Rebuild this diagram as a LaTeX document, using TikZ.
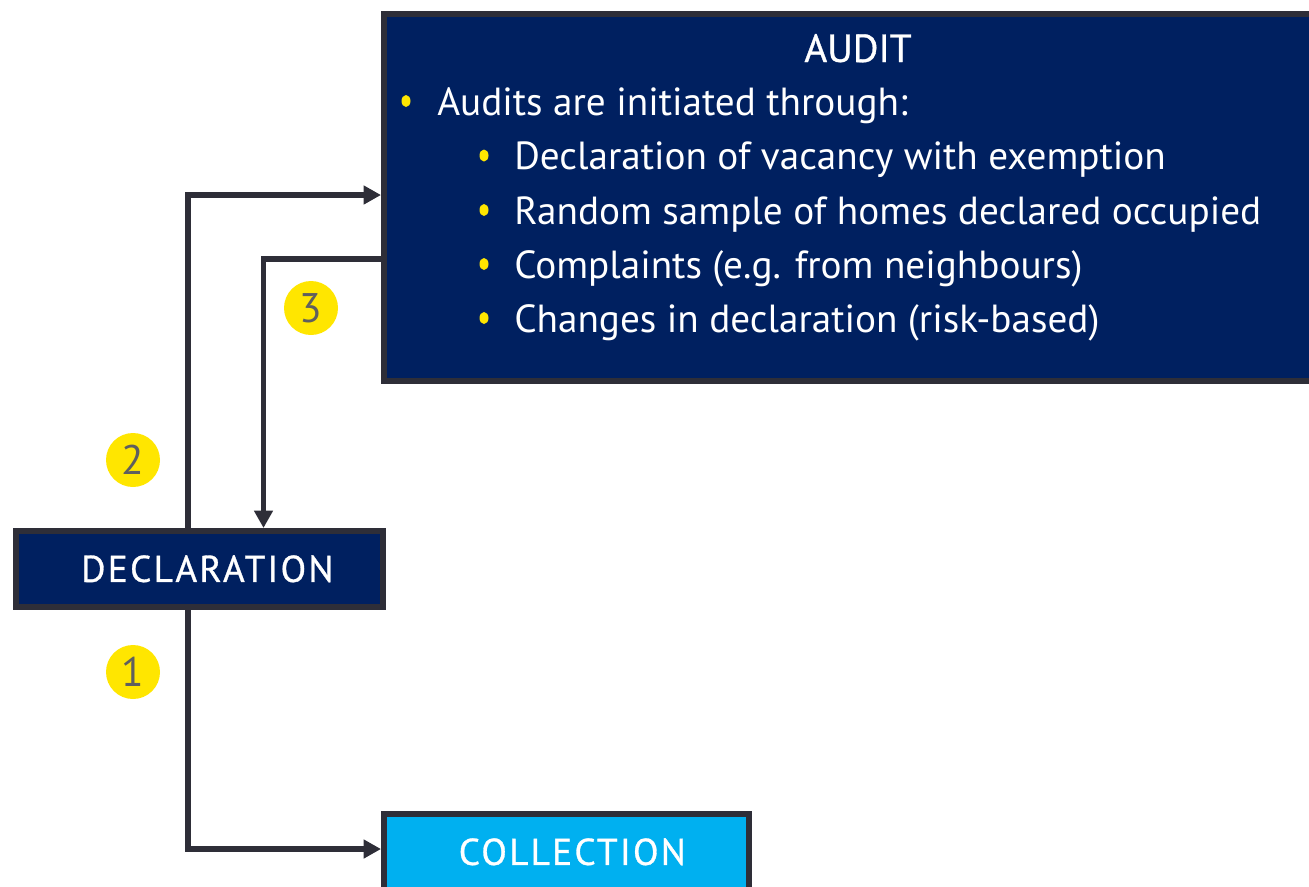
\documentclass[tikz,border=0pt]{standalone}
\usepackage{fontspec}
\setmainfont{PT Sans}
\usepackage{xcolor}
\usepackage{tikz}
\usetikzlibrary{arrows.meta}

\definecolor{navy}{RGB}{0,32,96}
\definecolor{edgegray}{RGB}{46,46,56}
\definecolor{sky}{RGB}{0,176,240}
\definecolor{eyyellow}{RGB}{255,230,0}
\definecolor{numgray}{RGB}{95,95,95}

\begin{document}
\begin{tikzpicture}[x=0.75pt,y=-0.75pt,
    box/.style={draw=edgegray,line width=4.25pt,fill=navy,text=white,inner sep=0pt,anchor=north west,
                font=\fontsize{28}{32}\selectfont\addfontfeatures{LetterSpace=6,FakeBold=0.8}},
    item/.style={text=white,inner sep=0pt,anchor=base west,font=\fontsize{29.4}{34}\selectfont},
    badge/.style={circle,fill=eyyellow,text=numgray,minimum size=40.5pt,inner sep=0pt,
                  font=\fontsize{31}{31}\selectfont},
    flow/.style={draw=edgegray,line width=4pt,-{Triangle[length=13pt,width=13.5pt]}}]
                \useasboundingbox (0,0) rectangle (1309,886);
                \clip (0,0) rectangle (1309,886);
                % boxes
                \node[box,minimum width=750pt,minimum height=275.25pt] (audit) at (381,11) {};
                \node[box,minimum width=275.25pt,minimum height=57pt] (decl) at (13,528) {\hspace*{12pt}DECLARATION};
                \node[box,fill=sky,minimum width=273.75pt,minimum height=57pt] (coll) at (381,811) {\hspace*{9pt}COLLECTION};
                % audit text
                \node[item,anchor=base,font=\fontsize{29.4}{34}\selectfont\addfontfeatures{FakeBold=0.8}] (title) at (858,62) {AUDIT};
                \node[item] (lead) at (437,115) {Audits are initiated through:};
                \node[item] (it1) at (514,169.5) {Declaration of vacancy with exemption};
                \node[item] (it2) at (514,224) {Random sample of homes declared occupied};
                \node[item] (it3) at (514,278) {Complaints (e.g. from neighbours)};
                \node[item] (it4) at (514,332) {Changes in declaration (risk-based)};
                \fill[eyyellow] (406,101) ellipse (4.5 and 6);
                \fill[eyyellow] (484,155.5) ellipse (4.5 and 6);
                \fill[eyyellow] (484,210) ellipse (4.5 and 6);
                \fill[eyyellow] (484,264) ellipse (4.5 and 6);
                \fill[eyyellow] (484,318) ellipse (4.5 and 6);
                % step numbers
                \node[badge] (n1) at (133,672) {1};
                \node[badge] (n2) at (133,460) {2};
                \node[badge] (n3) at (311,308) {3};
                % connectors
                \coordinate (k1) at (188,849);
                \coordinate (k2) at (188,195);
                \coordinate (k3) at (263.5,259);
                \draw[flow] (decl.north -| k2) -- (k2) -- (audit.west |- k2);
                \draw[flow] (audit.west |- k3) -- (k3) -- (decl.north -| k3);
                \draw[flow] (decl.south -| k1) -- (k1) -- (coll.west |- k1);
            \end{tikzpicture}
\end{document}
